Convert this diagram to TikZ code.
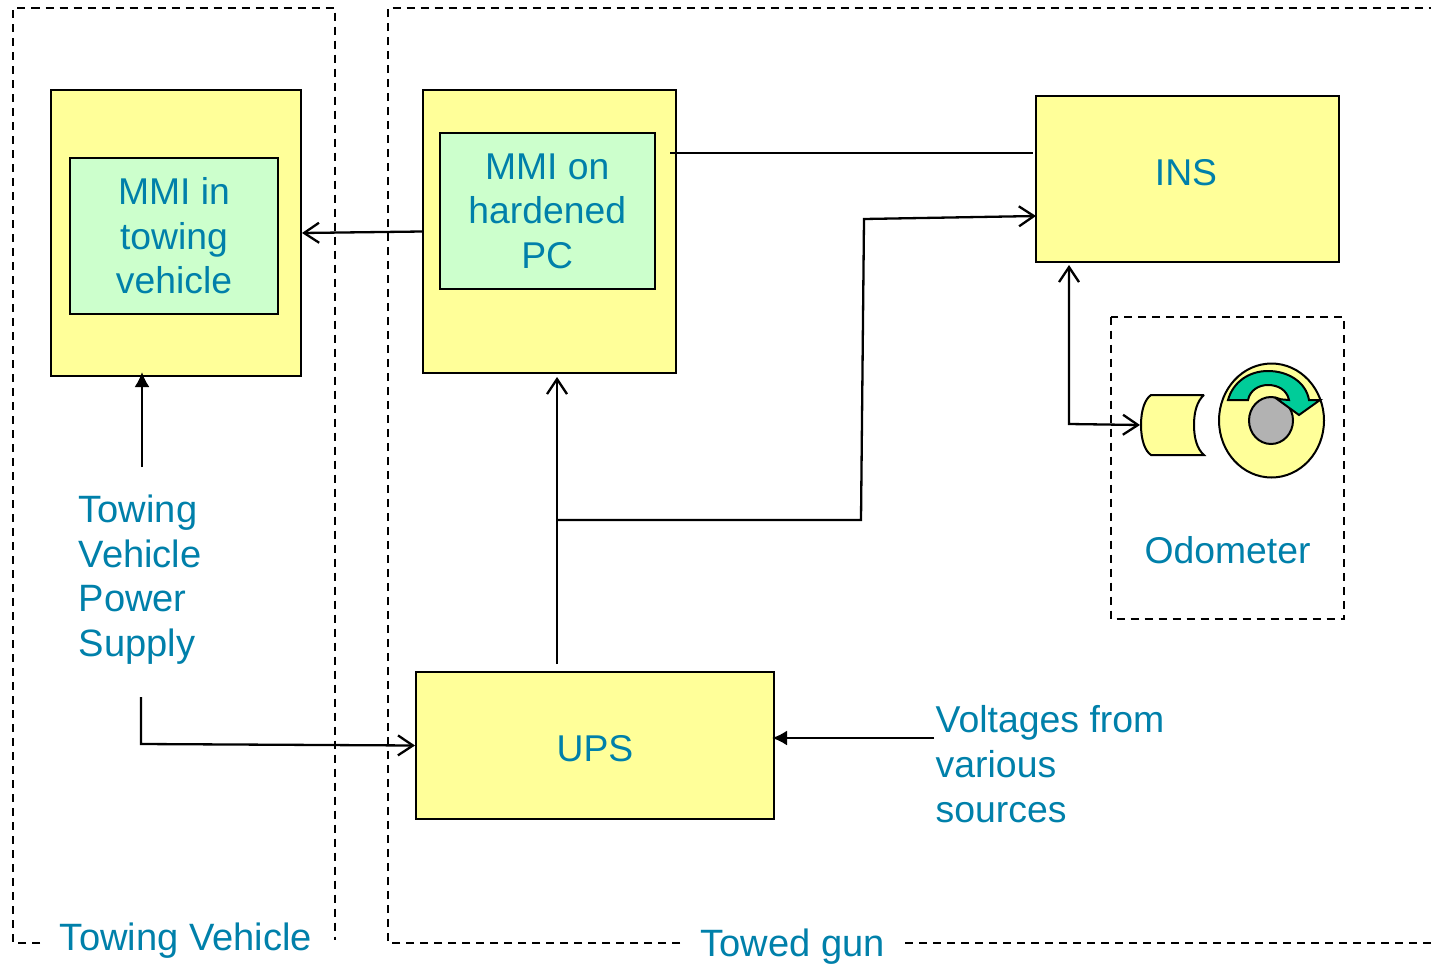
\documentclass[tikz,border=0pt]{standalone}
\usepackage{fontspec}
\setmainfont{Liberation Sans}
\usetikzlibrary{arrows.meta}
\definecolor{boxyellow}{HTML}{FFFF99}
\definecolor{boxgreen}{HTML}{CCFFCC}
\definecolor{labelteal}{HTML}{0080AA}
\definecolor{arrowgreen}{HTML}{00CC99}
\definecolor{hubgrey}{HTML}{B2B2B2}
\newcommand{\labelfont}{\fontsize{37.3pt}{44.5pt}\selectfont}
\newcommand{\widefont}{\fontsize{38.1pt}{44.5pt}\selectfont}
\newcommand{\voltfont}{\fontsize{37.4pt}{45pt}\selectfont}
\tikzset{
  yellowbox/.style={draw=black,line width=2pt,fill=boxyellow,inner sep=0pt,anchor=north west,text=labelteal,font=\labelfont,align=center},
  greenbox/.style={draw=black,line width=2pt,fill=boxgreen,inner sep=0pt,anchor=north west,text=labelteal,font=\labelfont,align=center},
  lbl/.style={inner sep=0pt,text=labelteal,font=\labelfont,align=left},
  widelbl/.style={lbl,font=\widefont},
  conn/.style={draw=black,line width=2.3pt},
  openarrow/.style={conn,-{Straight Barb[length=15pt,width=20pt,line width=2.3pt]}},
  bothopen/.style={conn,{Straight Barb[length=15pt,width=20pt,line width=2.3pt]}-{Straight Barb[length=15pt,width=20pt,line width=2.3pt]}},
  solidarrow/.style={conn,-{Latex[length=15pt,width=15pt]}},
  dashline/.style={draw=black,line width=2pt,dash pattern=on 8pt off 6pt},
  partline/.style={draw=black,line width=2pt},
}
\begin{document}
\begin{tikzpicture}[x=1pt,y=-1pt]
\useasboundingbox (0,0) rectangle (1435,964);
% dashed groups
\draw[dashline] (40,942.5) -- (13,942.5) -- (13,8) -- (335,8) -- (335,940);
\draw[dashline] (680,942.5) -- (387.5,942.5) -- (387.5,8) -- (1431,8);
\draw[dashline] (905,942.5) -- (1431,942.5);
\draw[dashline] (1111,316.5) rectangle (1344,619);
% boxes
\node[yellowbox,minimum width=250pt,minimum height=286pt] (towbox) at (50,89) {};
\node[greenbox,minimum width=208pt,minimum height=156pt] (towmmi) at (69,157) {MMI in\\towing\\vehicle};
\node[yellowbox,minimum width=252.5pt,minimum height=283pt] (pcbox) at (422,89) {};
\node[greenbox,minimum width=214.5pt,minimum height=156pt] (pcmmi) at (439,132) {MMI on\\hardened\\PC};
\node[yellowbox,minimum width=303pt,minimum height=166pt] (ins) at (1034.5,95) {};
\node[lbl] (inslabel) at (1186,173) {INS};
\node[yellowbox,minimum width=358pt,minimum height=147pt] (ups) at (415,671) {};
\node[lbl] (upslabel) at (595,749) {UPS};
% labels
\node[widelbl,anchor=north west] (tvps) at (78.5,495) {Towing\\Vehicle\\Power\\Supply};
\node[lbl,font=\voltfont,anchor=north west] (volt) at (935.5,705) {Voltages from\\various\\sources};
\node[lbl] (odo) at (1227.5,550) {Odometer};
\node[widelbl] (tvl) at (186,941) {Towing Vehicle};
\node[widelbl] (tgl) at (792.5,947) {Towed gun};
% odometer drawing
\path[partline,fill=boxyellow] (1204,395) -- (1151,395)
  .. controls (1145,399) and (1141,410) .. (1141,425)
  .. controls (1141,440) and (1145,451) .. (1151,455) -- (1204,455)
  .. controls (1197,449) and (1194,438) .. (1194,425)
  .. controls (1194,412) and (1197,401) .. (1204,395);
\coordinate (cyl) at (1140,425);
\path[partline,fill=boxyellow] (1271.5,420.5) ellipse [x radius=52.5,y radius=57];
\path[partline,fill=hubgrey] (1271,420.5) ellipse [x radius=22,y radius=23.5];
\path[partline,fill=arrowgreen] (1228,400) -- (1248,400)
  .. controls (1250,390) and (1259,385) .. (1268,385)
  .. controls (1278,385) and (1287,390) .. (1289,400)
  -- (1277,399) -- (1299,415) -- (1320,400) -- (1309,400)
  .. controls (1306,382) and (1288,371) .. (1268,371)
  .. controls (1249,371) and (1233,382) .. (1228,400) -- cycle;
% connector ends and bends
\coordinate (pcout) at (670,153);
\coordinate (insin) at (1033,153);
\coordinate (upsout) at (557,664);
\coordinate (pcin) at (557,377);
\coordinate (tee) at (557,520);
\coordinate (bend1) at (861,520);
\coordinate (bend2) at (864,219);
\coordinate (insin2) at (1036,216);
\coordinate (insup) at (1069,265);
\coordinate (odocorner) at (1069,424);
\coordinate (tvpstop) at (142,467);
\coordinate (towin) at (142,372);
\coordinate (tvpsbot) at (141,697);
\coordinate (tvpsbend) at (141,744);
\coordinate (upsin) at (415,745.5);
\coordinate (voltout) at (934,738);
\coordinate (upsin2) at (772,738);
% connectors
\draw[openarrow] (pcbox.west) -- (towbox.east);
\draw[conn] (pcout) -- (insin);
\draw[openarrow] (upsout) -- (pcin);
\draw[openarrow] (tee) -- (bend1) -- (bend2) -- (insin2);
\draw[bothopen] (insup) -- (odocorner) -- (cyl);
\draw[solidarrow] (tvpstop) -- (towin);
\draw[openarrow] (tvpsbot) -- (tvpsbend) -- (upsin);
\draw[solidarrow] (voltout) -- (upsin2);
\end{tikzpicture}
\end{document}
